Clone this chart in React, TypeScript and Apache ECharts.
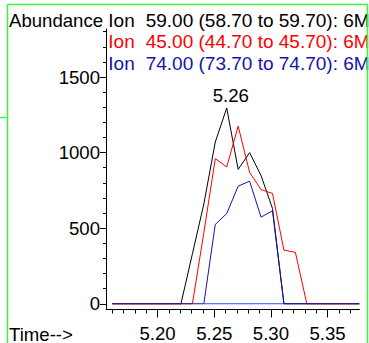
import React, { useEffect, useRef } from "react";
import * as echarts from "echarts";

// Scan times (min)
const times = [5.16, 5.1701, 5.1802, 5.1903, 5.2004, 5.2105, 5.2206, 5.2307, 5.2408, 5.2509, 5.261, 5.2711, 5.2812, 5.2913, 5.3014, 5.3115, 5.3216, 5.3317, 5.3418, 5.3519, 5.362, 5.3721, 5.378];
// Abundances
const ion59 = [0, 0, 0, 0, 0, 0, 0, 330, 660, 1070, 1295, 889, 1000, 848, 630, 0, 0, 0, 0, 0, 0, 0, 0];
const ion45 = [0, 0, 0, 0, 0, 0, 0, 0, 470, 960, 905, 1175, 870, 755, 730, 355, 340, 0, 0, 0, 0, 0, 0];
const ion74 = [0, 0, 0, 0, 0, 0, 0, 0, 0, 525, 597, 778, 811, 573, 615, 0, 0, 0, 0, 0, 0, 0, 0];
const baselineTimes = [5.2408, 5.3115];
const peakIndex = 10;
const peakLabel = "5.26";

const ionNames = ["Ion", "Ion", "Ion"];
const ionRanges = ["59.00 (58.70 to 59.70): 6M", "45.00 (44.70 to 45.70): 6M", "74.00 (73.70 to 74.70): 6M"];
const ionColors = ["#000000", "#ff0000", "#1414a8"];

const xMajorTicks = [5.2, 5.25, 5.3, 5.35];
const xMinorTicks = [5.16, 5.17, 5.18, 5.19, 5.21, 5.22, 5.23, 5.24, 5.26, 5.27, 5.28, 5.29, 5.31, 5.32, 5.33, 5.34, 5.36, 5.37];
const yMajorTicks = [0, 500, 1000, 1500];
const yMinorTicks = [100, 200, 300, 400, 600, 700, 800, 900, 1100, 1200, 1300, 1400, 1600, 1700, 1800];

const FONT = "'Liberation Sans', Arial, Helvetica, sans-serif";
const FS = 18.6;
const FS_LEG = 19;
const GREEN = "#3cf43c";

export default function App() {
  const ref = useRef<HTMLDivElement>(null);
  useEffect(() => {
    if (!ref.current) return;
    const chart = echarts.init(ref.current, undefined, { renderer: "svg" });
    const X_MIN = 5.15444;
    const X_MAX = 5.3782;
    const Y_MIN = -38;
    const Y_MAX = 1818;
    const pairs = (vals: number[]) => vals.map((v, i) => [times[i], v]);
    const texts: any[] = [
      { type: "text", style: { text: "Abundance", x: 9, y: 20, verticalAlign: "middle", fontSize: FS, fontFamily: FONT, fill: "#000" } },
      { type: "text", style: { text: "Time-->", x: 9, y: 334, verticalAlign: "middle", fontSize: FS, fontFamily: FONT, fill: "#000" } },
    ];
    const rowY = [20, 41.5, 63];
    ionNames.forEach((n, i) => {
      texts.push({ type: "text", style: { text: n, x: 108.3, y: rowY[i], verticalAlign: "middle", fontSize: FS_LEG, fontFamily: FONT, fill: ionColors[i] } });
      texts.push({ type: "text", style: { text: ionRanges[i], x: 145.7, y: rowY[i], verticalAlign: "middle", fontSize: FS_LEG, fontFamily: FONT, fill: ionColors[i] } });
    });
    const green = { stroke: GREEN, lineWidth: 1.5 };
    texts.push({ type: "line", shape: { x1: 7.5, y1: 4.5, x2: 7.5, y2: 343 }, style: green });
    texts.push({ type: "line", shape: { x1: 7.5, y1: 4.5, x2: 367.5, y2: 4.5 }, style: green });
    texts.push({ type: "line", shape: { x1: 367.5, y1: 4.5, x2: 367.5, y2: 343 }, style: green });
    texts.push({ type: "line", shape: { x1: 0, y1: 117.5, x2: 7.5, y2: 117.5 }, style: green });

    const commonX = { type: "value", min: X_MIN, max: X_MAX, position: "bottom", splitLine: { show: false } };
    const commonY = { type: "value", min: Y_MIN, max: Y_MAX, position: "left", splitLine: { show: false } };
    chart.setOption({
      animation: false,
      backgroundColor: "#ffffff",
      grid: { left: 106, right: 9.5, top: 29, bottom: 33.5, containLabel: false },
      xAxis: [
        {
          ...commonX,
          axisLine: { show: true, onZero: false, lineStyle: { color: "#000", width: 1 } },
          axisTick: { show: true, customValues: xMajorTicks, length: 8, lineStyle: { color: "#000" } },
          axisLabel: { show: true, customValues: xMajorTicks, formatter: (v: number) => v.toFixed(2), margin: 14, color: "#000", fontSize: FS, fontFamily: FONT },
        },
        {
          ...commonX,
          axisLine: { show: false, onZero: false },
          axisTick: { show: true, customValues: xMinorTicks, length: 4, lineStyle: { color: "#000" } },
          axisLabel: { show: false },
        },
      ],
      yAxis: [
        {
          ...commonY,
          axisLine: { show: true, onZero: false, lineStyle: { color: "#000", width: 1 } },
          axisTick: { show: true, customValues: yMajorTicks, length: 6, lineStyle: { color: "#000" } },
          axisLabel: { show: true, customValues: yMajorTicks, formatter: (v: number) => String(Math.round(v)), margin: 6, color: "#000", fontSize: FS, fontFamily: FONT },
        },
        {
          ...commonY,
          axisLine: { show: false, onZero: false },
          axisTick: { show: true, customValues: yMinorTicks, length: 3, lineStyle: { color: "#000" } },
          axisLabel: { show: false },
        },
      ],
      series: [
        { type: "line", name: "baseline", data: baselineTimes.map((t) => [t, 0]), symbol: "none", lineStyle: { color: "#2a4cff", width: 1 }, z: 1 },
        {
          type: "line",
          name: "Ion 59",
          data: pairs(ion59),
          symbol: "none",
          lineStyle: { color: ionColors[0], width: 1 },
          z: 2,
          markPoint: {
            symbol: "circle",
            symbolSize: 0,
            itemStyle: { color: "transparent" },
            label: { show: true, position: "top", distance: 3, offset: [4, 0], formatter: peakLabel, color: "#000", fontSize: FS, fontFamily: FONT },
            data: [{ coord: [times[peakIndex], ion59[peakIndex]] }],
          },
        },
        { type: "line", name: "Ion 45", data: pairs(ion45), symbol: "none", lineStyle: { color: ionColors[1], width: 1 }, z: 3 },
        { type: "line", name: "Ion 74", data: pairs(ion74), symbol: "none", lineStyle: { color: ionColors[2], width: 1 }, z: 4 },
      ],
      graphic: texts,
    });
    return () => chart.dispose();
  }, []);
  return <div ref={ref} style={{ position: "fixed", left: 0, top: 0, width: 369, height: 343 }} />;
}
